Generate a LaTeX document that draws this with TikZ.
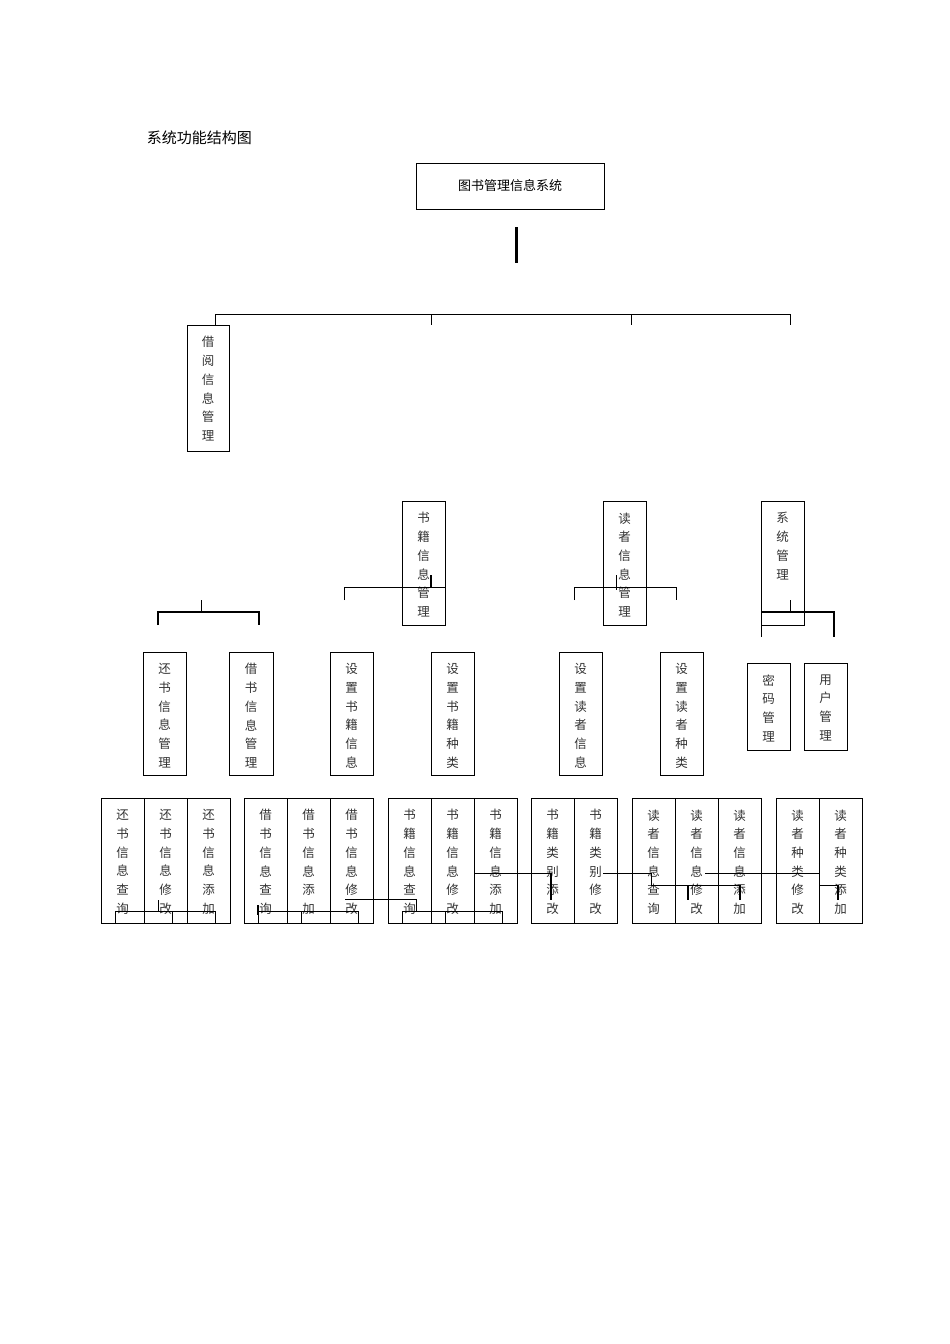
\documentclass[tikz,border=0pt]{standalone}
\usepackage{fontspec}
\setmainfont{Noto Sans CJK SC}
\begin{document}
\begin{tikzpicture}[x=1pt,y=-1pt,line width=1pt,
  vt/.style={anchor=north,align=center,inner sep=0pt,font=\fontsize{12.5}{18.7}\selectfont,text=black!80},
  thk/.style={line width=2pt}]
\useasboundingbox (0,0) rectangle (950,1344);
\newcommand\bx[6]{\draw (#2,#3) rectangle (#4,#5); \node[vt] (#1) at ({(#2+#4)/2},#3+11) {#6};}
\node[anchor=west,font=\fontsize{15}{15}\selectfont] (title) at (143,138) {系统功能结构图};
\draw (416,163) rectangle (604,209);
\node[font=\fontsize{13}{13}\selectfont] (root) at (510,186) {图书管理信息系统};
\draw[line width=3pt] (516,227) -- (516,263);
\draw (215,325) -- (215,314) -- (790,314) -- (790,325);
\draw (431,314) -- (431,325); \draw (631,314) -- (631,325);
% level 1
\bx{jy}{187}{325}{229}{451}{借\\阅\\信\\息\\管\\理}
\bx{sj}{402}{501}{445}{625}{书\\籍\\信\\息\\管\\理}
\bx{dz}{603}{501}{646}{625}{读\\者\\信\\息\\管\\理}
\bx{xt}{761}{501}{804}{625}{系\\统\\管\\理}
% brackets
\draw (201,600) -- (201,612);
\draw[thk] (158,625) -- (158,612) -- (259,612) -- (259,625);
\draw (344,600) -- (344,587) -- (445,587); \draw[thk] (431,575) -- (431,587);
\draw (574,600) -- (574,587) -- (676,587) -- (676,600); \draw (616,575) -- (616,590);
\draw (790,600) -- (790,612);
\draw[thk] (761,612) -- (834,612) -- (834,637);
\draw (761,612) -- (761,637); \draw (761,625) -- (804,625);
% level 2
\bx{hsg}{143}{652}{186}{775}{还\\书\\信\\息\\管\\理}
\bx{jsg}{229}{652}{273}{775}{借\\书\\信\\息\\管\\理}
\bx{szsx}{330}{652}{373}{775}{设\\置\\书\\籍\\信\\息}
\bx{szsz}{431}{652}{474}{775}{设\\置\\书\\籍\\种\\类}
\bx{szdx}{559}{652}{602}{775}{设\\置\\读\\者\\信\\息}
\bx{szdz}{660}{652}{703}{775}{设\\置\\读\\者\\种\\类}
\bx{mm}{747}{663}{790}{750}{密\\码\\管\\理}
\bx{yh}{804}{663}{847}{750}{用\\户\\管\\理}
% level 3
\bx{a1}{101}{798}{144}{923}{还\\书\\信\\息\\查\\询}
\bx{a2}{144}{798}{187}{923}{还\\书\\信\\息\\修\\改}
\bx{a3}{187}{798}{230}{923}{还\\书\\信\\息\\添\\加}
\bx{b1}{244}{798}{287}{923}{借\\书\\信\\息\\查\\询}
\bx{b2}{287}{798}{330}{923}{借\\书\\信\\息\\添\\加}
\bx{b3}{330}{798}{373}{923}{借\\书\\信\\息\\修\\改}
\bx{c1}{388}{798}{431}{923}{书\\籍\\信\\息\\查\\询}
\bx{c2}{431}{798}{474}{923}{书\\籍\\信\\息\\修\\改}
\bx{c3}{474}{798}{517}{923}{书\\籍\\信\\息\\添\\加}
\bx{d1}{531}{798}{574}{923}{书\\籍\\类\\别\\添\\改}
\bx{d2}{574}{798}{617}{923}{书\\籍\\类\\别\\修\\改}
\bx{e1}{632}{798}{675}{923}{读\\者\\信\\息\\查\\询}
\bx{e2}{675}{798}{718}{923}{读\\者\\信\\息\\修\\改}
\bx{e3}{718}{798}{761}{923}{读\\者\\信\\息\\添\\加}
\bx{f1}{776}{798}{819}{923}{读\\者\\种\\类\\修\\改}
\bx{f2}{819}{798}{862}{923}{读\\者\\种\\类\\添\\加}
% bottom brackets
\draw (115,923) -- (115,911) -- (215,911) -- (215,923); \draw (172,911) -- (172,923); \draw (158,900) -- (158,911);
\draw (258,923) -- (258,911) -- (358,911) -- (358,923); \draw (301,911) -- (301,923); \draw[thk] (258,905) -- (258,915);
\draw (345,899) -- (416,899) -- (416,911);
\draw (402,923) -- (402,911) -- (502,911) -- (502,923); \draw (445,911) -- (445,923);
\draw (474,873) -- (551,873); \draw[thk] (551,873) -- (551,900);
\draw (603,873) -- (651,873); \draw (651,873) -- (651,885) -- (740,885); \draw[thk] (740,885) -- (740,900); \draw[thk] (688,885) -- (688,900);
\draw (705,873) -- (819,873); \draw (819,885) -- (838,885); \draw[thk] (838,885) -- (838,900);
\end{tikzpicture}
\end{document}
